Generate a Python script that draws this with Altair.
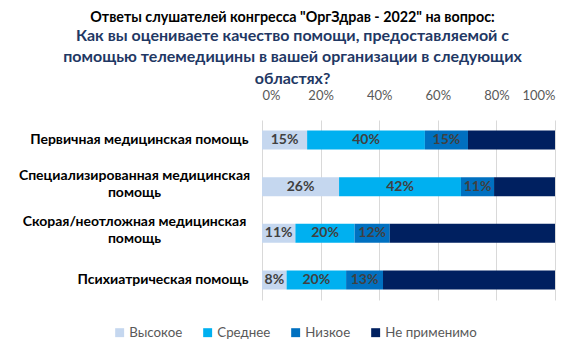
import altair as alt
import pandas as pd

categories = [
    "Первичная медицинская помощь",
    "Специализированная медицинская|помощь",
    "Скорая/неотложная медицинская|помощь",
    "Психиатрическая помощь",
]
levels = ["Высокое", "Среднее", "Низкое", "Не применимо"]
colors = ["#C5D7EF", "#00B0F0", "#0070C0", "#002060"]

high = [15.4, 26.3, 11.4, 8.4]
medium = [40.2, 41.6, 20.2, 20.3]
low = [14.7, 11.3, 12.0, 12.6]
na = [29.7, 20.8, 56.4, 58.7]

rows = []
for i, c in enumerate(categories):
    for j, (lvl, series) in enumerate(zip(levels, [high, medium, low, na])):
        rows.append({"cat": c, "level": lvl, "order": j, "value": series[i]})
df = pd.DataFrame(rows)

FONT = "Lato"
multi = "indexof(datum.label, '|') >= 0"

base = alt.Chart(df).transform_stack(
    stack="value", as_=["x0", "x1"], groupby=["cat"], sort=[alt.SortField("order")]
).transform_calculate(mid="(datum.x0 + datum.x1) / 2",
                      lbl="format(datum.value, '.0f') + '%'")

ycol = alt.Y(
    "cat:N",
    sort=categories,
    scale=alt.Scale(paddingInner=0.593, paddingOuter=0.225),
    axis=alt.Axis(
        title=None,
        domain=False,
        ticks=False,
        labelExpr="split(datum.label, '|')",
        labelFont=FONT,
        labelFontSize=14,
        labelFontWeight="bold",
        labelColor="#000000",
        labelLineHeight=17,
        labelAlign={"condition": {"test": multi, "value": "center"}, "value": "right"},
        labelPadding={"condition": {"test": multi, "value": 128}, "value": 14},
        labelOffset={"condition": {"test": multi, "value": -11}, "value": 0},
        labelLimit=400,
    ),
)

bars = base.mark_bar().encode(
    x=alt.X(
        "x0:Q",
        scale=alt.Scale(domain=[0, 100]),
        axis=alt.Axis(
            orient="top",
            title=None,
            values=[0, 20, 40, 60, 80, 100],
            labelExpr="datum.value + '%'",
            domain=False,
            ticks=False,
            grid=True,
            gridColor="#D9D9D9",
            labelFont=FONT,
            labelFontSize=13,
            labelColor="#595959",
            labelPadding=18,
        ),
    ),
    x2="x1:Q",
    y=ycol,
    color=alt.Color(
        "level:N",
        scale=alt.Scale(domain=levels, range=colors),
        legend=alt.Legend(
            title=None,
            orient="none",
            direction="horizontal",
            legendX=-149,
            legendY=206,
            symbolType="square",
            symbolSize=80,
            symbolStrokeWidth=0,
            labelFont=FONT,
            labelFontSize=13.3,
            labelColor="#595959",
            labelOffset=3,
            columnPadding=18,
        ),
    ),
    order=alt.Order("order:Q"),
)

texts = base.transform_filter("datum.order < 3").mark_text(
    font=FONT, fontSize=14, fontWeight="bold", color="#404040"
).encode(
    x="mid:Q",
    y=alt.Y("cat:N", sort=categories),
    text="lbl:N",
)

chart = alt.layer(bars, texts).properties(
    width=293,
    height=180,
    autosize=alt.AutoSizeParams(type="none"),
    padding={"left": 254, "top": 112, "right": 21, "bottom": 48},
    title=alt.Title(
        text='Ответы слушателей конгресса "ОргЗдрав - 2022" на вопрос:',
        subtitle=[
            "Как вы оцениваете качество помощи, предоставляемой с",
            "помощью телемедицины в вашей организации в следующих",
            "областях?",
        ],
        anchor="middle",
        dx=-116,
        font=FONT,
        fontSize=14.3,
        fontWeight="bold",
        color="#000000",
        subtitleFont=FONT,
        subtitleFontSize=16,
        subtitleFontWeight="bold",
        subtitleColor="#1F3864",
        subtitleLineHeight=21.5,
        subtitlePadding=3,
        offset=2,
    ),
).configure_view(stroke=None)

chart.save("out.html", embed_options={"renderer": "svg", "actions": False})
